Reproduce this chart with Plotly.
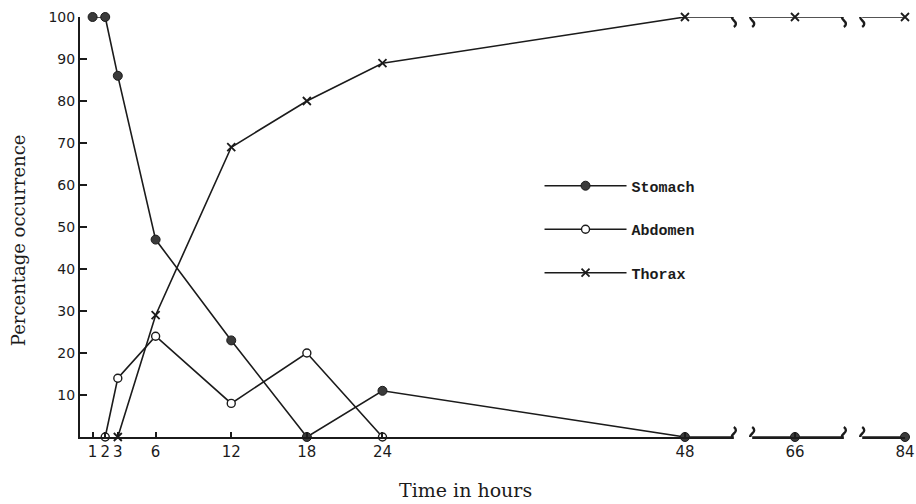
import plotly.graph_objects as go

# ---- data (hours, percentage occurrence) ----
hours_stomach = [1, 2, 3, 6, 12, 18, 24, 48, 66, 84]
stomach = [100, 100, 86, 47, 23, 0, 11, 0, 0, 0]

hours_abdomen = [2, 3, 6, 12, 18, 24]
abdomen = [0, 14, 24, 8, 20, 0]

hours_thorax = [3, 6, 12, 18, 24, 48, 66, 84]
thorax = [0, 29, 69, 80, 89, 100, 100, 100]

x_ticks = [1, 2, 3, 6, 12, 18, 24, 48, 66, 84]
y_ticks = [10, 20, 30, 40, 50, 60, 70, 80, 90, 100]
breaks_hours = [(56, 59), (74, 77)]

# broken axis: linear up to 48 h, compressed beyond
BREAK_AT = 48
COMPRESS = 0.485


def xpos(h):
    return h if h <= BREAK_AT else BREAK_AT + (h - BREAK_AT) * COMPRESS


def mapx(hs):
    return [xpos(h) for h in hs]


INK = "#1b1b1b"
fig = go.Figure()

fig.add_trace(go.Scatter(
    x=mapx(hours_stomach), y=stomach, name="Stomach", mode="lines+markers",
    line=dict(color=INK, width=1.6),
    marker=dict(symbol="circle", size=9, color="#3a3a3a", line=dict(color=INK, width=1)),
    cliponaxis=False, legendgroup="s"))
fig.add_trace(go.Scatter(
    x=mapx(hours_abdomen), y=abdomen, name="Abdomen", mode="lines+markers",
    line=dict(color=INK, width=1.6),
    marker=dict(symbol="circle", size=8, color="white", line=dict(color=INK, width=1.4)),
    cliponaxis=False, legendgroup="a"))
fig.add_trace(go.Scatter(
    x=mapx(hours_thorax), y=thorax, name="Thorax", mode="lines+markers",
    line=dict(color=INK, width=1.6),
    marker=dict(symbol="x-thin", size=8, color=INK, line=dict(color=INK, width=1.8)),
    cliponaxis=False, legendgroup="t"))

shapes = []
wave = "M0,-10 Q4,-7 0,-3.5 Q-4,0 0,3.5 Q4,7 0,10"
for b0, b1 in breaks_hours:
    shapes.append(dict(type="rect", xref="x", yref="paper",
                       x0=xpos(b0), x1=xpos(b1), y0=-0.03, y1=1.03,
                       fillcolor="white", line=dict(width=0), layer="above"))
    for bx in (b0, b1):
        for yv in (0, 100):
            shapes.append(dict(type="path", xref="x", yref="y",
                               xsizemode="pixel", ysizemode="pixel",
                               xanchor=xpos(bx), yanchor=yv, path=wave,
                               line=dict(color=INK, width=2.4), layer="above"))

fig.update_layout(
    width=916, height=504,
    margin=dict(l=80, r=11, t=17, b=67),
    paper_bgcolor="white", plot_bgcolor="white",
    shapes=shapes,
    legend=dict(x=0.557, y=0.637, xanchor="left", yanchor="top",
                font=dict(family="Liberation Mono", size=15, color=INK, weight="bold"),
                itemwidth=82, tracegroupgap=21, bgcolor="rgba(0,0,0,0)"),
    xaxis=dict(range=[0, xpos(84)], tickmode="array", tickvals=mapx(x_ticks),
               ticktext=[str(t) for t in x_ticks], ticks="inside", ticklen=5,
               tickwidth=1.5, tickcolor=INK, showline=True, linecolor=INK, linewidth=2,
               showgrid=False, zeroline=False, automargin=False,
               tickfont=dict(family="DejaVu Sans", size=15, color=INK)),
    yaxis=dict(range=[0, 100], tickmode="array", tickvals=y_ticks,
               ticktext=[str(t) for t in y_ticks], ticks="inside", ticklen=7,
               tickwidth=1.5, tickcolor=INK, showline=True, linecolor=INK, linewidth=2,
               showgrid=False, zeroline=False, ticklabelstandoff=0, automargin=False,
               tickfont=dict(family="DejaVu Sans", size=14, color=INK)),
    annotations=[
        dict(text="Time in hours", xref="paper", yref="paper", x=0.467, y=-0.125,
             xanchor="center", yanchor="middle", showarrow=False,
             font=dict(family="DejaVu Serif", size=19, color=INK)),
        dict(text="Percentage occurrence", xref="paper", yref="paper", x=-0.075, y=0.469,
             xanchor="center", yanchor="middle", showarrow=False, textangle=-90,
             font=dict(family="DejaVu Serif", size=18, color=INK)),
    ],
)

fig.write_html("out.html", config={"displayModeBar": False},
               post_script="document.body.style.margin='0';")
